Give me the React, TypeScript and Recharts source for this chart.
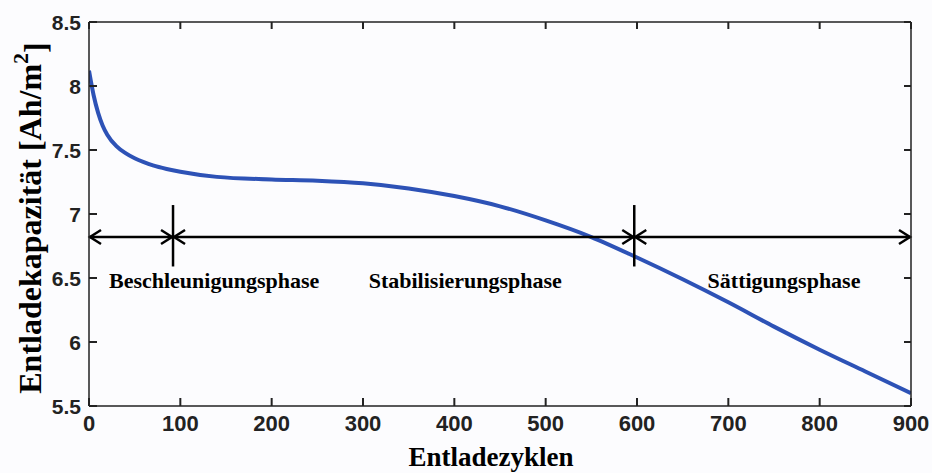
import React from 'react';
import { LineChart, Line, XAxis, YAxis, ReferenceLine, ReferenceDot } from 'recharts';

const cycles = [0, 2, 5, 10, 15, 20, 30, 40, 50, 60, 70, 85, 100, 140, 200, 250, 300, 350, 400, 450, 500, 550, 600, 650, 700, 750, 800, 850, 900];
const capacity = [8.12, 8.04, 7.93, 7.79, 7.69, 7.62, 7.53, 7.475, 7.435, 7.405, 7.38, 7.352, 7.33, 7.29, 7.27, 7.26, 7.24, 7.2, 7.14, 7.06, 6.95, 6.82, 6.66, 6.49, 6.31, 6.12, 5.94, 5.77, 5.6];

const xTicks = [0, 100, 200, 300, 400, 500, 600, 700, 800, 900];
const yTicks = [5.5, 6, 6.5, 7, 7.5, 8, 8.5];
const xDomain = [0, 900];
const yDomain = [5.5, 8.5];

const phaseBounds = [0, 92, 597, 900];
const arrowLevel = 6.82;
const markerTop = 7.07;
const markerBottom = 6.59;
const phaseNames = ['Beschleunigungsphase', 'Stabilisierungsphase', 'Sättigungsphase'];
const phaseLabelX = [137, 412, 761];
const phaseLabelY = 6.42;

const data = cycles.map((c, i) => ({ c, v: capacity[i] }));

const sans = '"Liberation Sans", Arial, sans-serif';
const serif = '"Liberation Serif", "Times New Roman", serif';
const axisColor = '#222';
const TICK_LEN = 8;
const TICK_W = 2;

const BottomTick = (p: any) => (
  <g>
    <path d={`M${p.x},${p.y - 9}L${p.x},${p.y - 9 - TICK_LEN}`} stroke={axisColor} strokeWidth={TICK_W} fill="none" />
    <text x={p.x} y={p.y} dy="0.71em" textAnchor="middle" fontFamily={sans} fontWeight={700} fontSize={22} fill="#222">
      {p.payload.value}
    </text>
  </g>
);

const LeftTick = (p: any) => (
  <g>
    <path d={`M${p.x + 8},${p.y}L${p.x + 8 + TICK_LEN},${p.y}`} stroke={axisColor} strokeWidth={TICK_W} fill="none" />
    <text x={p.x} y={p.y} dy="0.36em" textAnchor="end" fontFamily={sans} fontWeight={700} fontSize={21} fill="#222">
      {String(p.payload.value)}
    </text>
  </g>
);

const TopTick = (p: any) => (
  <path d={`M${p.x},${p.y}L${p.x},${p.y + TICK_LEN - 1}`} stroke={axisColor} strokeWidth={TICK_W} fill="none" />
);

const RightTick = (p: any) => (
  <path d={`M${p.x},${p.y}L${p.x - TICK_LEN + 1},${p.y}`} stroke={axisColor} strokeWidth={TICK_W} fill="none" />
);

const ArrowShape = (props: any) => {
  const { x1, y1, x2, y2 } = props;
  const L = 12;
  const H = 7;
  return (
    <g>
      <line x1={x1} y1={y1} x2={x2} y2={y2} stroke="#000" strokeWidth={2.5} />
      <polyline points={`${x1 + L},${y1 - H} ${x1 + 1},${y1} ${x1 + L},${y1 + H}`} fill="none" stroke="#000" strokeWidth={2.5} />
      <polyline points={`${x2 - L},${y2 - H} ${x2 - 1},${y2} ${x2 - L},${y2 + H}`} fill="none" stroke="#000" strokeWidth={2.5} />
    </g>
  );
};

const segShape = (props: any) => {
  const seg = props.segment || [];
  if (seg.length === 2 && seg[0] && seg[1]) {
    return <ArrowShape x1={seg[0].x} y1={seg[0].y} x2={seg[1].x} y2={seg[1].y} />;
  }
  return <ArrowShape {...props} />;
};

export default function App() {
  return (
    <div style={{ position: 'absolute', left: 0, top: 0, width: 932, height: 473, background: '#fcfcfe' }}>
      <LineChart
        width={932}
        height={473}
        data={data}
        margin={{ top: 21, right: 20, bottom: 27, left: 29 }}
      >
        <XAxis
          dataKey="c"
          type="number"
          domain={xDomain}
          ticks={xTicks}
          allowDataOverflow
          height={40}
          tickSize={0}
          tickMargin={9}
          tick={BottomTick}
          tickLine={false}
          axisLine={{ stroke: axisColor, strokeWidth: 1.5 }}
          label={(p: any) => {
            const vb = p.viewBox || {};
            return (
              <text x={vb.x + vb.width / 2 - 9} y={466} textAnchor="middle" fontFamily={serif} fontWeight={700} fontSize={27} fill="#000">
                Entladezyklen
              </text>
            );
          }}
        />
        <XAxis
          xAxisId="top"
          orientation="top"
          dataKey="c"
          type="number"
          domain={xDomain}
          ticks={xTicks}
          allowDataOverflow
          height={1}
          tickSize={0}
          tickMargin={0}
          tick={TopTick}
          tickLine={false}
          axisLine={{ stroke: axisColor, strokeWidth: 1.5 }}
        />
        <YAxis
          type="number"
          domain={yDomain}
          ticks={yTicks}
          allowDataOverflow
          width={60}
          tickSize={0}
          tickMargin={8}
          tick={LeftTick}
          tickLine={false}
          axisLine={{ stroke: axisColor, strokeWidth: 1.5 }}
          label={(p: any) => {
            const vb = p.viewBox || {};
            const cy = vb.y + vb.height / 2 + 4;
            return (
              <text x={30} y={cy} transform={`rotate(-90, 30, ${cy})`} textAnchor="middle" dominantBaseline="central" fontFamily={serif} fontWeight={700} fontSize={32} fill="#000">
                Entladekapazität [Ah/m
                <tspan dy="-0.45em" fontSize={22}>2</tspan>
                <tspan dy="0.45em">]</tspan>
              </text>
            );
          }}
        />
        <YAxis
          yAxisId="right"
          orientation="right"
          type="number"
          domain={yDomain}
          ticks={yTicks}
          allowDataOverflow
          width={1}
          tickSize={0}
          tickMargin={0}
          tick={RightTick}
          tickLine={false}
          axisLine={{ stroke: axisColor, strokeWidth: 1.5 }}
        />
        <Line
          xAxisId="top"
          yAxisId="right"
          dataKey="v"
          type="monotone"
          stroke="none"
          strokeWidth={0}
          dot={false}
          activeDot={false}
          legendType="none"
          isAnimationActive={false}
        />
        <Line
          dataKey="v"
          type="monotone"
          stroke="#2d52b6"
          strokeWidth={4}
          dot={false}
          isAnimationActive={false}
        />
        {phaseBounds.slice(0, -1).map((b, i) => (
          <ReferenceLine
            key={'a' + i}
            segment={[{ x: b, y: arrowLevel }, { x: phaseBounds[i + 1], y: arrowLevel }]}
            shape={segShape}
            stroke="#000"
            ifOverflow="visible"
          />
        ))}
        {phaseBounds.slice(1, -1).map((b, i) => (
          <ReferenceLine
            key={'m' + i}
            segment={[{ x: b, y: markerTop }, { x: b, y: markerBottom }]}
            stroke="#000"
            strokeWidth={2.5}
            ifOverflow="visible"
          />
        ))}
        {phaseNames.map((name, i) => (
          <ReferenceDot
            key={'l' + i}
            x={phaseLabelX[i]}
            y={phaseLabelY}
            r={0}
            ifOverflow="visible"
            shape={(p: any) => (
              <text x={p.cx} y={p.cy} textAnchor="middle" fontFamily={serif} fontWeight={700} fontSize={22} fill="#000">
                {name}
              </text>
            )}
          />
        ))}
      </LineChart>
    </div>
  );
}
